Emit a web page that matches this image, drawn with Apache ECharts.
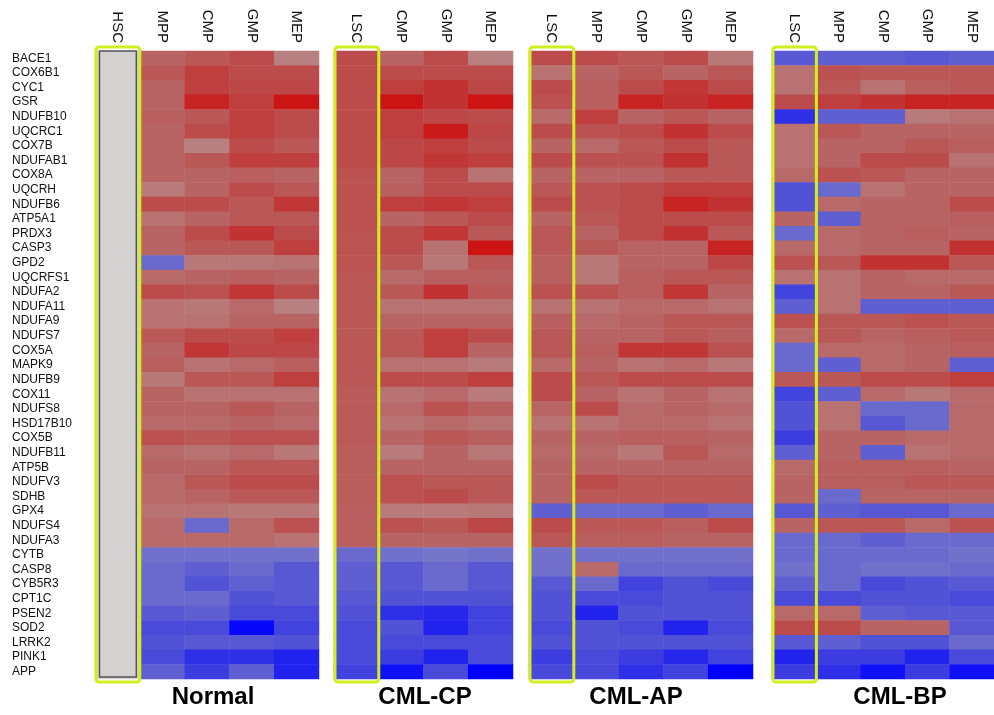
<!DOCTYPE html>
<html>
<head>
<meta charset="utf-8">
<script src="https://cdn.jsdelivr.net/npm/echarts@6/dist/echarts.min.js"></script>
<style>
  html, body { margin: 0; padding: 0; background: #fff; }
  #chart { width: 994px; height: 715px; }
</style>
</head>
<body>
<div id="chart"></div>
<script>
// genes, top to bottom
const genes = ['BACE1','COX6B1','CYC1','GSR','NDUFB10','UQCRC1','COX7B','NDUFAB1','COX8A','UQCRH',
  'NDUFB6','ATP5A1','PRDX3','CASP3','GPD2','UQCRFS1','NDUFA2','NDUFA11','NDUFA9','NDUFS7',
  'COX5A','MAPK9','NDUFB9','COX11','NDUFS8','HSD17B10','COX5B','NDUFB11','ATP5B','NDUFV3',
  'SDHB','GPX4','NDUFS4','NDUFA3','CYTB','CASP8','CYB5R3','CPT1C','PSEN2','SOD2','LRRK2','PINK1','APP']

const normalCols = ['HSC','MPP','CMP','GMP','MEP']
const cpCols = ['LSC','CMP','GMP','MEP']
const apCols = ['LSC','MPP','CMP','GMP','MEP']
const bpCols = ['LSC','MPP','CMP','GMP','MEP']

// expression relative to HSC (red > 0, blue < 0), one array per column
const normalHSC = new Array(43).fill(0)
const normalMPP = [2,2.5,2,2,2.2,2,2,2,2,1.2,3,1.5,2,2,-1.5,1.8,3,1.5,1.5,2.5,2,2.2,1.3,2,2,1.8,2.8,1.8,2,1.8,1.8,1.5,1.8,1.8,-1.3,-1.5,-1.5,-1.5,-2,-2.5,-2.2,-2.5,-1.8]
const normalCMP = [2.5,3.5,3.5,4.5,2.5,3,1,2.5,2,2,3,2,3,2.5,1.3,2,2.8,1.3,1.5,3,3.8,1.5,2.5,1.5,2,1.8,2.5,1.5,2,2.5,2,1.5,-1.5,1.8,-1.3,-1.8,-2.2,-1.5,-1.8,-2.5,-2,-3.5,-3]
const normalGMP = [3,3,3.2,3.5,3.5,3.5,3,3.5,2.2,3,2.5,2.5,4,2.5,1.3,2.2,3.8,1.8,2,3,3.2,1.8,2.5,1.5,2.5,2,2.8,1.8,2.5,3,2.5,1.3,1.8,1.8,-1.3,-1.5,-1.8,-2.2,-2.5,-4.8,-2,-3.5,-1.8]
const normalMEP = [1,3,3.2,5,3,3,2.5,3.5,2,2.5,3.8,2.5,3,3.5,1.5,2,3,1,2,3.5,3.2,2.2,3.5,1.5,2,1.8,2.8,1.3,2.5,3,2.5,1.3,2.8,1.5,-1.3,-2,-2,-2,-2.5,-2.8,-2.2,-4,-4]

const cpLSC = [3,3,3,3,3,3,3,3,2.8,2.8,2.8,2.8,2.7,2.7,2.7,2.6,2.6,2.6,2.5,2.5,2.5,2.5,2.5,2.4,2.4,2.4,2.4,2.3,2.3,2.3,2.3,2.2,2.2,2.2,-1.5,-1.8,-1.8,-2,-2.2,-2.5,-2.5,-2.5,-2.8]
const cpCMP = [2,3,3.5,5,3.5,3.5,3.2,3.2,2,2.2,3.5,2,3,3,2.5,1.8,2.5,1.5,2,2.5,2.5,1.5,3,1.5,1.8,1.5,2,1.2,2,2.8,2.8,1.2,2.8,2,-1.3,-2,-2,-2.2,-3.5,-2.2,-2.5,-3,-4.5]
const cpGMP = [3,3,4,4,3.2,4.8,3.5,3.8,3,3,3.8,2.5,3.8,1.5,1.3,2.2,4,1.5,2,3.5,3.5,1.5,3,1.8,2.8,1.8,2.5,2,2,2.5,3,1.2,2.5,2,-1.2,-1.5,-1.5,-2.2,-3.8,-4,-2.5,-4,-2.5]
const cpMEP = [1,3,3.2,5,3,3.2,3,3.5,1.5,3,3.5,3,2.5,5,2.5,2.2,2.5,1.5,2,3,2,1.2,3.5,1.2,2.2,1.5,2.2,1.3,2,2.5,2.5,1.3,3.2,2,-1.3,-2,-2,-2.2,-2.8,-2.8,-2.5,-2.5,-5]

const apLSC = [3,1.5,3,2.8,1.8,3,2,3,2,2.5,3,2,2.5,2.5,2.2,2.2,2.8,1.5,2.2,2.5,2.5,1.8,3,3,2,1.5,2,1.8,2,2,2,-1.8,3,2.5,-1.3,-1.3,-2,-2.2,-2.2,-2.5,-2.2,-3,-2.5]
const apMPP = [3,2,2.2,2.2,3.5,2.8,1.8,2.8,2,2.8,2.8,2.5,2,2.5,1.3,1.3,2.8,1.5,1.8,2,2.2,2,2.5,2,3,1.5,2,1.8,2,3,2.5,-1.5,2.5,2.2,-1.3,1.8,-1.5,-2.5,-4,-2.2,-2.2,-2.5,-2.5]
const apCMP = [2.5,2.5,3,4.5,2,3,2.5,2.8,2,3,3,3,3,2,2,2.2,2.2,1.8,2,2,3.8,1.5,3,1.5,1.8,1.8,2.2,1.3,2,2.5,2.5,-1.5,2.5,2.2,-1.3,-1.5,-2.8,-2.5,-2.2,-2.5,-2.2,-3,-3.5]
const apGMP = [3,2,3.8,4,2.5,4,3,4,2.5,3.5,4.5,3,4,2,2,2.5,3.8,1.8,2.5,2.5,3.8,1.8,3,2,2,1.8,2.2,2.5,2,2.5,2.5,-1.8,2.2,2,-1.3,-1.5,-2.2,-2.2,-2.2,-4,-2.2,-3.8,-2.8]
const apMEP = [1.3,2.5,3,4.5,2,3,2.5,2.5,2.5,3.5,4,3,2.5,4.5,3.2,2.5,2,1.5,2.5,2.2,2.8,1.3,3,1.5,1.8,1.5,2,1.8,2,2.5,2.5,-1.5,3,2,-1.3,-1.5,-2.5,-2.2,-2.2,-2.5,-2.2,-2.8,-5]

const bpLSC = [-2,1.5,1.5,3,-3.5,1.5,1.5,1.5,1.8,-2.2,-2.2,2,-1.5,1.8,2.8,1.5,-2.8,-1.8,2.8,1.8,-1.5,-1.5,2.5,-2.8,-2.2,-2.2,-3,-1.8,1.8,2,2,-2,2,-1.5,-1.5,-1.3,-1.8,-2.5,1.8,3,-2,-4,-3]
const bpMPP = [-1.8,2.8,2.5,3.5,-1.8,2.5,2,2,2.8,-1.5,1.8,-1.8,1.8,1.8,2.5,1.5,1.5,1.5,2.5,2.5,1.8,-1.8,2.5,-1.8,1.5,1.5,2,2,2.2,2.2,-1.5,-1.8,2.5,-1.5,-1.5,-1.5,-1.5,-2.5,1.8,3,-1.8,-3,-3.5]
const bpCMP = [-1.8,2.5,1.5,4,-1.8,2,2,3,2.5,1.5,2,2,2,2,4,2,2,-1.8,2.5,2,1.8,1.8,3,1.8,-1.5,-2,2,-1.8,2.2,2.2,2,-2,2.5,-1.8,-1.5,-1.3,-2.5,-2.2,-1.8,2,-2.2,-3,-4.5]
const bpGMP = [-2,2.5,2.2,4.5,1.2,2,2.5,3,2,2,2,2,2.2,2,4,1.8,2,-1.8,2.8,2.2,2,2,3,1.3,-1.5,-1.5,1.8,1.5,2.2,2.5,2,-2,1.8,-1.5,-1.5,-1.3,-2.2,-2.2,-2,2,-2.2,-4,-3]
const bpMEP = [-1.8,2.5,2.5,4.5,1.5,2,2.2,1.5,2,2,3,2.2,2,4,2.5,1.8,2.5,-1.8,2.5,2.5,2.2,-1.8,3.5,1.8,1.8,1.8,1.8,1.8,2,2.5,2,-1.5,2.8,-1.5,-1.3,-1.5,-2,-2.5,-2,-2,-1.5,-2.5,-4.5]

const panels = [
  { name: 'Normal', cols: normalCols, values: [normalHSC, normalMPP, normalCMP, normalGMP, normalMEP], left: 95, width: 224, titleX: 213, box: 'HSC' },
  { name: 'CML-CP', cols: cpCols, values: [cpLSC, cpCMP, cpGMP, cpMEP], left: 334, width: 179, titleX: 425, box: 'LSC' },
  { name: 'CML-AP', cols: apCols, values: [apLSC, apMPP, apCMP, apGMP, apMEP], left: 529, width: 224, titleX: 636, box: 'LSC' },
  { name: 'CML-BP', cols: bpCols, values: [bpLSC, bpMPP, bpCMP, bpGMP, bpMEP], left: 772, width: 225, titleX: 900, box: 'LSC' }
]

const TOP = 51, HEIGHT = 628
const font = '"Liberation Sans", Arial, sans-serif'

const chart = echarts.init(document.getElementById('chart'))

const option = {
  backgroundColor: '#fff',
  animation: false,
  grid: panels.map(p => ({ left: p.left, top: TOP, width: p.width, height: HEIGHT })),
  xAxis: panels.map((p, i) => ({
    type: 'category',
    gridIndex: i,
    data: p.cols,
    position: 'top',
    axisLine: { show: false },
    axisTick: { show: false },
    splitLine: { show: false },
    axisLabel: { rotate: 90, margin: 8, fontSize: 15, color: '#111', fontFamily: font }
  })),
  yAxis: panels.map((p, i) => ({
    type: 'category',
    gridIndex: i,
    data: genes,
    inverse: true,
    axisLine: { show: false },
    axisTick: { show: false },
    splitLine: { show: false },
    axisLabel: i === 0
      ? { show: true, align: 'left', margin: 83, fontSize: 12, color: '#111', fontFamily: font, interval: 0 }
      : { show: false }
  })),
  visualMap: {
    type: 'continuous',
    show: false,
    min: -5,
    max: 5,
    seriesIndex: [0, 1, 2, 3],
    inRange: {
      color: ['#0000ff', '#2222ee', '#3c3ce0', '#5858d4', '#7c7cc8', '#d4d2d0',
              '#b88080', '#b86464', '#bc4c4c', '#c23232', '#cc1414']
    }
  },
  series: panels.map((p, i) => {
    const data = []
    p.values.forEach((col, c) => col.forEach((v, r) => data.push([c, r, v])))
    return {
      type: 'heatmap',
      xAxisIndex: i,
      yAxisIndex: i,
      data: data,
      itemStyle: { borderWidth: 0 },
      emphasis: { disabled: true }
    }
  })
}

chart.setOption(option)

// outline boxes around the reference column of each panel + panel titles
const graphics = []
panels.forEach((p, i) => {
  const x0 = chart.convertToPixel({ xAxisIndex: i }, p.cols[0])
  const x1 = chart.convertToPixel({ xAxisIndex: i }, p.cols[1])
  const bw = x1 - x0
  const yA = chart.convertToPixel({ yAxisIndex: i }, genes[0])
  const yB = chart.convertToPixel({ yAxisIndex: i }, genes[genes.length - 1])
  const bh = (yB - yA) / (genes.length - 1)
  const top = yA - bh / 2
  const bottom = yB + bh / 2
  if (p.box === 'HSC') {
    graphics.push({
      type: 'rect', z: 10,
      shape: { x: x0 - bw / 2 + 4.5, y: top, width: bw - 8, height: bottom - top - 2 },
      style: { fill: null, stroke: '#555', lineWidth: 1.5 }
    })
  }
  graphics.push({
    type: 'rect', z: 11,
    shape: { x: x0 - bw / 2 + 1, y: top - 4, width: bw - 1, height: bottom - top + 7, r: 3 },
    style: { fill: null, stroke: '#d2ee1e', lineWidth: 3 }
  })
  graphics.push({
    type: 'text', z: 11,
    x: p.titleX, y: 697,
    style: { text: p.name, align: 'center', verticalAlign: 'middle', font: 'bold 24px ' + font, fill: '#000' }
  })
})
chart.setOption({ graphic: graphics })
</script>
</body>
</html>
